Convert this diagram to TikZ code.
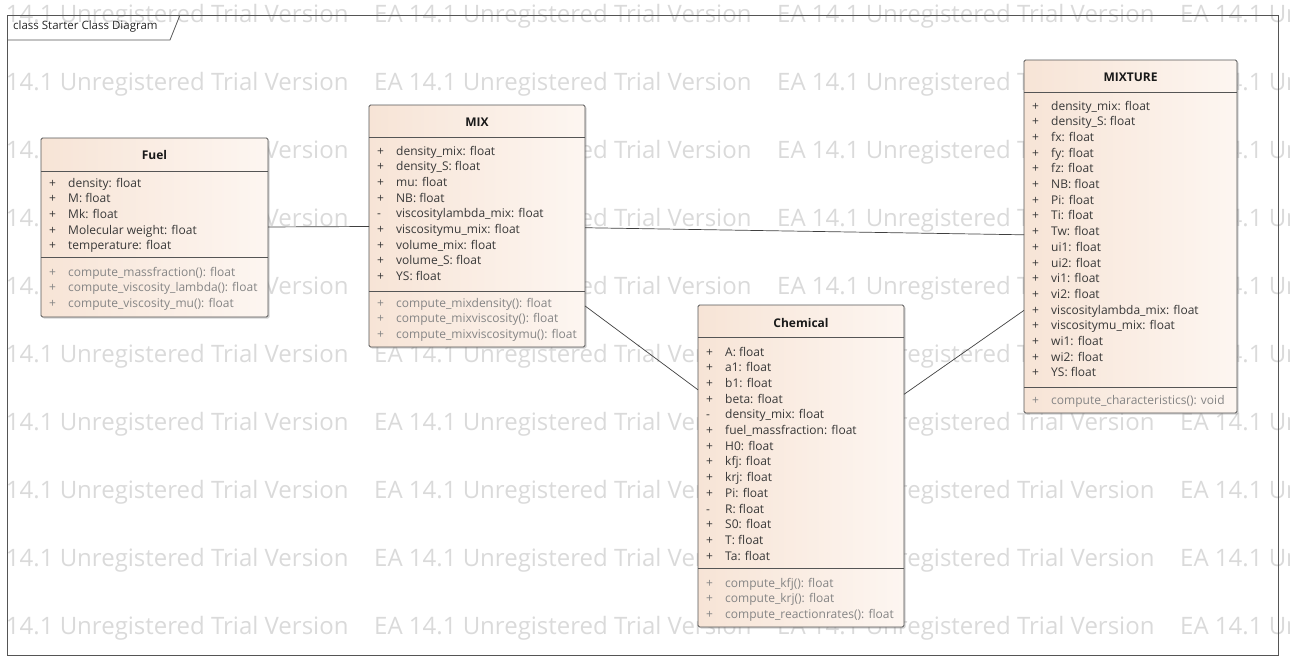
\documentclass[tikz,border=0pt]{standalone}
\usepackage{fontspec}
\setmainfont{Open Sans}
\usetikzlibrary{shadows}

\definecolor{boxleft}{RGB}{247,228,214}
\definecolor{boxright}{RGB}{253,246,241}
\definecolor{wmgray}{RGB}{218,218,218}
\definecolor{edgegray}{RGB}{85,85,85}
\newcommand{\rowfont}{\fontsize{12}{14}\selectfont}

\tikzset{
  umlclass/.style={draw=edgegray, line width=0.8pt, rounded corners=1.5pt,
    left color=boxleft, right color=boxright,
    drop shadow={shadow xshift=1.5pt, shadow yshift=-1.5pt, opacity=0.35},
    inner sep=0pt, outer sep=0pt},
  cname/.style={font=\rowfont\bfseries, text=black!90, inner sep=0pt},
  member/.style={anchor=base west, font=\rowfont, inner sep=0pt, text=black!78},
  method/.style={member, text=black!48},
  sepline/.style={draw=edgegray, line width=0.8pt},
  assoc/.style={draw=black!75, line width=0.7pt},
  wmark/.style={anchor=west, font=\fontsize{24}{24}\selectfont, text=wmgray, inner sep=0pt},
}

\begin{document}
\begin{tikzpicture}[x=1pt,y=-1pt]
    \path[use as bounding box, clip] (0,0) rectangle (1290,657);

    % trial watermark
    \foreach \r in {0,...,9}
      \foreach \c in {0,...,3}
        \node[wmark] (wm\r\c) at (-29+403*\c, 16+68*\r) {EA 14.1 Unregistered Trial Version};

    % frame
    \draw[edgegray, line width=0.8pt] (7,15) rectangle (1278,655);
    \draw[edgegray, line width=0.8pt] (7,40) -- (170,40) -- (180,15);
    \node[anchor=west, font=\fontsize{11.5}{13}\selectfont, text=black!85, inner sep=0pt] (framelabel) at (13,27) {class Starter Class Diagram};

    % classes
    \node[umlclass, minimum width=227pt, minimum height=179pt] (fuel) at (154.5,227.5) {};
    \node[umlclass, minimum width=216pt, minimum height=242pt] (mix) at (477,226) {};
    \node[umlclass, minimum width=206pt, minimum height=322pt] (chem) at (801,466) {};
    \node[umlclass, minimum width=213pt, minimum height=353pt] (mixture) at (1130.5,236.5) {};

    % associations
    \draw[assoc] (fuel) -- (mix);
    \draw[assoc] (mix) -- (mixture);
    \draw[assoc] (mix) -- (chem);
    \draw[assoc] (chem) -- (mixture);

    % Fuel
    \node[cname] (fuelname) at (154.5,155) {Fuel};
    \draw[sepline] ([yshift=-33pt]fuel.north west) -- ([yshift=-33pt]fuel.north east);
    \draw[sepline] ([yshift=-119pt]fuel.north west) -- ([yshift=-119pt]fuel.north east);
    \foreach \v/\t [count=\i from 0] in {+/density: float, +/M: float, +/Mk: float,
        +/Molecular weight: float, +/temperature: float}
      \node[member] (fuela\i) at (49, 187+15.7*\i) {\makebox[19pt][l]{\v}\t};
    \foreach \v/\t [count=\i from 0] in {+/compute\_massfraction(): float,
        +/compute\_viscosity\_lambda(): float, +/compute\_viscosity\_mu(): float}
      \node[method] (fuelm\i) at (49, 276+15.7*\i) {\makebox[19pt][l]{\v}\t};

    % MIX
    \node[cname] (mixname) at (477,122) {MIX};
    \draw[sepline] ([yshift=-32pt]mix.north west) -- ([yshift=-32pt]mix.north east);
    \draw[sepline] ([yshift=-186pt]mix.north west) -- ([yshift=-186pt]mix.north east);
    \foreach \v/\t [count=\i from 0] in {+/density\_mix: float, +/density\_S: float,
        +/mu: float, +/NB: float, -/viscositylambda\_mix: float, +/viscositymu\_mix: float,
        +/volume\_mix: float, +/volume\_S: float, +/YS: float}
      \node[member] (mixa\i) at (377, 155+15.7*\i) {\makebox[19pt][l]{\v}\t};
    \foreach \v/\t [count=\i from 0] in {+/compute\_mixdensity(): float,
        +/compute\_mixviscosity(): float, +/compute\_mixviscositymu(): float}
      \node[method] (mixm\i) at (377, 307+15.7*\i) {\makebox[19pt][l]{\v}\t};

    % Chemical
    \node[cname] (chemname) at (801,323) {Chemical};
    \draw[sepline] ([yshift=-32pt]chem.north west) -- ([yshift=-32pt]chem.north east);
    \draw[sepline] ([yshift=-263pt]chem.north west) -- ([yshift=-263pt]chem.north east);
    \foreach \v/\t [count=\i from 0] in {+/A: float, +/a1: float, +/b1: float,
        +/beta: float, -/density\_mix: float, +/fuel\_massfraction: float, +/H0: float,
        +/kfj: float, +/krj: float, +/Pi: float, -/R: float, +/S0: float, +/T: float,
        +/Ta: float}
      \node[member] (chema\i) at (706, 356+15.7*\i) {\makebox[19pt][l]{\v}\t};
    \foreach \v/\t [count=\i from 0] in {+/compute\_kfj(): float,
        +/compute\_krj(): float, +/compute\_reactionrates(): float}
      \node[method] (chemm\i) at (706, 587+15.7*\i) {\makebox[19pt][l]{\v}\t};

    % MIXTURE
    \node[cname] (mixturename) at (1130.5,77) {MIXTURE};
    \draw[sepline] ([yshift=-32pt]mixture.north west) -- ([yshift=-32pt]mixture.north east);
    \draw[sepline] ([yshift=-327pt]mixture.north west) -- ([yshift=-327pt]mixture.north east);
    \foreach \t [count=\i from 0] in {density\_mix: float, density\_S: float, fx: float,
        fy: float, fz: float, NB: float, Pi: float, Ti: float, Tw: float, ui1: float,
        ui2: float, vi1: float, vi2: float, viscositylambda\_mix: float,
        viscositymu\_mix: float, wi1: float, wi2: float, YS: float}
      \node[member] (mixturea\i) at (1032, 110+15.7*\i) {\makebox[19pt][l]{+}\t};
    \node[method] (mixturem0) at (1032, 404) {\makebox[19pt][l]{+}compute\_characteristics(): void};
\end{tikzpicture}
\end{document}
